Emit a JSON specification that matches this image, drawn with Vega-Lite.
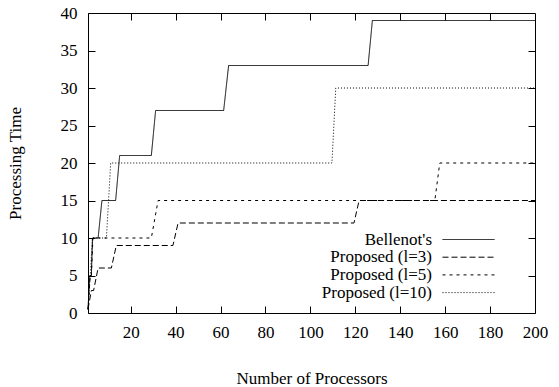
{
  "$schema": "https://vega.github.io/schema/vega-lite/v6.json",
  "width": 447,
  "height": 300,
  "autosize": "none",
  "padding": {"left": 88, "top": 13, "right": 24, "bottom": 74},
  "config": {
    "font": "Liberation Serif",
    "view": {"stroke": "black", "strokeWidth": 1},
    "axis": {"grid": false, "domain": false, "tickColor": "black", "tickSize": -7, "tickWidth": 1, "labelFlush": false,
             "labelFont": "Liberation Serif", "labelFontSize": 17, "labelColor": "black",
             "titleFont": "Liberation Serif", "titleFontSize": 17, "titleFontWeight": "normal", "titleColor": "black"},
    "legend": {"labelFont": "Liberation Serif", "labelFontSize": 17, "labelColor": "black"}
  },
  "data": {"values": [
    {"s": "Bellenot's", "p": 1, "t": 0.5},
    {"s": "Bellenot's", "p": 1.8, "t": 5},
    {"s": "Bellenot's", "p": 2.5, "t": 5},
    {"s": "Bellenot's", "p": 3, "t": 10},
    {"s": "Bellenot's", "p": 5.5, "t": 10},
    {"s": "Bellenot's", "p": 7.2, "t": 15},
    {"s": "Bellenot's", "p": 13.3, "t": 15},
    {"s": "Bellenot's", "p": 15.1, "t": 21},
    {"s": "Bellenot's", "p": 29.2, "t": 21},
    {"s": "Bellenot's", "p": 31.1, "t": 27},
    {"s": "Bellenot's", "p": 61.4, "t": 27},
    {"s": "Bellenot's", "p": 63.6, "t": 33},
    {"s": "Bellenot's", "p": 125.7, "t": 33},
    {"s": "Bellenot's", "p": 127.6, "t": 39},
    {"s": "Bellenot's", "p": 200, "t": 39},
    {"s": "Proposed (l=3)", "p": 1, "t": 0.5},
    {"s": "Proposed (l=3)", "p": 2.5, "t": 3},
    {"s": "Proposed (l=3)", "p": 3.5, "t": 3},
    {"s": "Proposed (l=3)", "p": 5.5, "t": 6},
    {"s": "Proposed (l=3)", "p": 11.4, "t": 6},
    {"s": "Proposed (l=3)", "p": 13.6, "t": 9},
    {"s": "Proposed (l=3)", "p": 38.8, "t": 9},
    {"s": "Proposed (l=3)", "p": 41.1, "t": 12},
    {"s": "Proposed (l=3)", "p": 119.4, "t": 12},
    {"s": "Proposed (l=3)", "p": 121.7, "t": 15},
    {"s": "Proposed (l=3)", "p": 200, "t": 15},
    {"s": "Proposed (l=5)", "p": 1, "t": 0.5},
    {"s": "Proposed (l=5)", "p": 2, "t": 5},
    {"s": "Proposed (l=5)", "p": 2.5, "t": 5},
    {"s": "Proposed (l=5)", "p": 3.2, "t": 10},
    {"s": "Proposed (l=5)", "p": 29.2, "t": 10},
    {"s": "Proposed (l=5)", "p": 32.2, "t": 15},
    {"s": "Proposed (l=5)", "p": 155.4, "t": 15},
    {"s": "Proposed (l=5)", "p": 157.6, "t": 20},
    {"s": "Proposed (l=5)", "p": 200, "t": 20},
    {"s": "Proposed (l=10)", "p": 1, "t": 0.5},
    {"s": "Proposed (l=10)", "p": 2, "t": 5},
    {"s": "Proposed (l=10)", "p": 3, "t": 10},
    {"s": "Proposed (l=10)", "p": 9.2, "t": 10},
    {"s": "Proposed (l=10)", "p": 11.1, "t": 20},
    {"s": "Proposed (l=10)", "p": 109.6, "t": 20},
    {"s": "Proposed (l=10)", "p": 111.3, "t": 30},
    {"s": "Proposed (l=10)", "p": 200, "t": 30}
  ]},
  "layer": [
    {
      "mark": {"type": "line", "strokeWidth": 1, "color": "black"},
      "encoding": {
        "x": {"field": "p", "type": "quantitative", "scale": {"domain": [1, 200], "nice": false, "zero": false},
              "axis": {"values": [20, 40, 60, 80, 100, 120, 140, 160, 180, 200], "labelPadding": 18, "title": "Number of Processors", "titlePadding": 30}},
        "y": {"field": "t", "type": "quantitative", "scale": {"domain": [0, 40], "nice": false},
              "axis": {"values": [0, 5, 10, 15, 20, 25, 30, 35, 40], "labelPadding": 18, "title": "Processing Time", "titlePadding": 36}},
        "strokeDash": {"field": "s", "type": "nominal",
          "sort": ["Bellenot's", "Proposed (l=3)", "Proposed (l=5)", "Proposed (l=10)"],
          "scale": {"domain": ["Bellenot's", "Proposed (l=3)", "Proposed (l=5)", "Proposed (l=10)"],
                    "range": [[1, 0], [6, 3], [3, 4], [1, 2]]},
          "legend": {"title": null, "orient": "none", "legendX": 372, "legendY": 218,
                     "symbolType": "M-5.2,0H5.2", "symbolSize": 100, "symbolStrokeColor": "black", "symbolStrokeWidth": 1,
                     "labelAlign": "right", "labelOffset": -45, "rowPadding": -0.3, "padding": 0}}
      }
    },
    {
      "mark": {"type": "line", "opacity": 0},
      "encoding": {
        "x": {"field": "p", "type": "quantitative", "scale": {"domain": [1, 200], "nice": false, "zero": false},
              "axis": {"orient": "top", "values": [20, 40, 60, 80, 100, 120, 140, 160, 180], "labels": false, "title": null}},
        "y": {"field": "t", "type": "quantitative", "scale": {"domain": [0, 40], "nice": false},
              "axis": {"orient": "right", "values": [5, 10, 15, 20, 25, 30, 35], "labels": false, "title": null}}
      }
    }
  ],
  "resolve": {"scale": {"x": "independent", "y": "independent"}}
}
